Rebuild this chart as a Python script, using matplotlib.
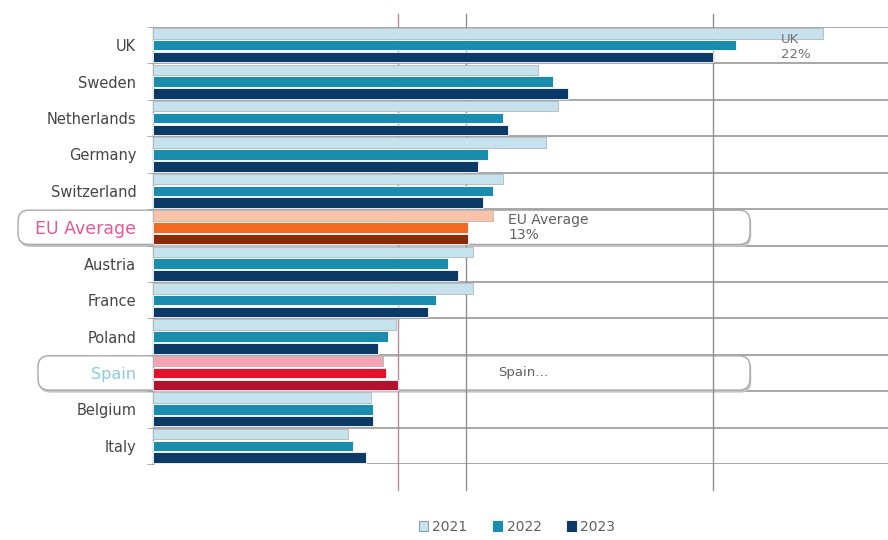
import matplotlib.pyplot as plt
import matplotlib.transforms as mtransforms
from matplotlib.patches import FancyBboxPatch, Patch
import numpy as np

# data (share, %)
countries = ["UK", "Sweden", "Netherlands", "Germany", "Switzerland", "EU Average",
             "Austria", "France", "Poland", "Spain", "Belgium", "Italy"]
v2021 = [26.8, 15.4, 16.2, 15.7, 14.0, 13.6, 12.8, 12.8, 9.7, 9.2, 8.7, 7.8]
v2022 = [23.3, 16.0, 14.0, 13.4, 13.6, 12.6, 11.8, 11.3, 9.4, 9.3, 8.8, 8.0]
v2023 = [22.4, 16.6, 14.2, 13.0, 13.2, 12.6, 12.2, 11.0, 9.0, 9.8, 8.8, 8.5]
years = ["2021", "2022", "2023"]

# colours
blue = ["#c6e2ec", "#1a8cae", "#0b3a66"]
eu_col = ["#f8c3a8", "#f06a24", "#8a2a08"]
es_col = ["#f6a3b3", "#e0122c", "#b3122f"]
grey = "#a0a0a0"
txt = "#454545"

plt.rcParams['font.family'] = ['DejaVu Sans']

fig = plt.figure(figsize=(8.88, 5.40), dpi=100)
ax = fig.add_axes([153 / 888, 76 / 540, 1 - 153 / 888, 437 / 540])

y = np.arange(len(countries))
h = 0.29
offs = [-0.325, 0, 0.325]
for k, vals in enumerate([v2021, v2022, v2023]):
    cols = []
    for c in countries:
        if c == "EU Average":
            cols.append(eu_col[k])
        elif c == "Spain":
            cols.append(es_col[k])
        else:
            cols.append(blue[k])
    ax.barh(y + offs[k], vals, height=h, color=cols, edgecolor="#b0b8bc" if k == 0 else "white",
            linewidth=0.6, zorder=3)

ax.set_ylim(len(countries) - 0.5, -0.5)
ax.set_xlim(0, 29.4)

# horizontal grid at category boundaries
for b in np.arange(-0.5, len(countries), 1.0):
    ax.axhline(b, color=grey, lw=1.3, zorder=1)

# reference lines at Spain, EU average and UK 2023 values
ref_vals = [v2023[countries.index("Spain")], v2023[countries.index("EU Average")] - 0.1,
            v2023[countries.index("UK")]]
ref_cols = ["#b48a9c", "#909090", "#909090"]
for v, c in zip(ref_vals, ref_cols):
    ax.axvline(v, ymin=-0.06, ymax=1.03, color=c, lw=1.0, zorder=2, clip_on=False)

for s in ["top", "right", "bottom"]:
    ax.spines[s].set_visible(False)
ax.spines["left"].set_color(grey)
ax.spines["left"].set_linewidth(1.0)
ax.set_xticks([])
ax.set_yticks(y)
ax.set_yticklabels(countries, fontsize=10.5, color=txt)
ax.tick_params(axis="y", length=0, pad=12)
ax.set_yticks(np.arange(-0.5, len(countries), 1.0), minor=True)
ax.tick_params(axis="y", which="minor", length=4, color=grey)

labels = ax.get_yticklabels()
i_eu = countries.index("EU Average")
i_es = countries.index("Spain")
labels[i_eu].set_color("#e2589a")
labels[i_eu].set_fontsize(12.5)
labels[i_es].set_color("#8ccbe0")
labels[i_es].set_fontsize(11.5)

# highlight boxes (x in figure fraction, y in data)
tr = mtransforms.blended_transform_factory(fig.transFigure, ax.transData)
for idx, x0, x1 in [(i_eu, 18 / 888, 750 / 888), (i_es, 38 / 888, 750 / 888)]:
    for sh, fc, ec, z in [(0.07, "#c4c4c4", "none", 1.1), (0, "white", "#a8a8a8", 1.2)]:
        box = FancyBboxPatch((x0 + sh * 0.02, idx - 0.47 + sh), x1 - x0, 0.94,
                             boxstyle="round,pad=0,rounding_size=0.012",
                             transform=tr, fc=fc, ec=ec, lw=1.0,
                             zorder=z, clip_on=False, mutation_aspect=25)
        ax.add_patch(box)

# callouts
ax.text(v2023[0] + 2.7, 0.05, "UK\n22%", fontsize=9.5, color="#707070", va="center",
        ha="left", linespacing=1.25, zorder=4)
ax.text(v2023[i_eu] + 1.6, i_eu, "EU Average\n13%", fontsize=10, color="#606060",
        va="center", ha="left", linespacing=1.05, zorder=4)
ax.text(v2023[i_es] + 4.0, i_es, "Spain\u2026", fontsize=9.5, color="#606060",
        va="center", ha="left", zorder=4)

handles = [Patch(facecolor=blue[k], edgecolor="#8aa0a8" if k == 0 else blue[k], lw=0.8)
           for k in range(3)]
fig.legend(handles, years, loc="center", bbox_to_anchor=(517 / 888, 13 / 540), ncol=3,
           frameon=False, fontsize=10, handlelength=0.7, handleheight=0.7,
           handletextpad=0.3, columnspacing=1.8, labelcolor="#606060")

fig.savefig("out.png", dpi=100)
